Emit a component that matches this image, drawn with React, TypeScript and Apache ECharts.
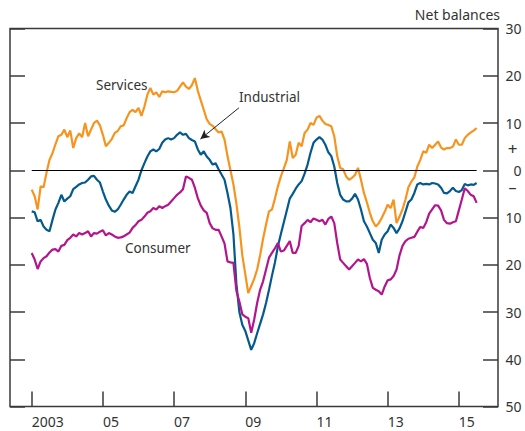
import React, { useEffect, useRef } from "react";
import * as echarts from "echarts";

// Monthly net balances, Jan 2003 – Jul 2015
const startYear = 2003;

const services = [
  -4.1, -5.5, -8.3, -3.4, -3.6, -0.5, 2.2, 3.6, 5.5, 7.2, 7.5, 8.6,
  7.0, 8.4, 4.7, 6.8, 7.8, 7.0, 10.0, 7.2, 8.6, 10.0, 10.5, 9.5,
  7.5, 5.1, 5.8, 6.6, 7.9, 8.3, 9.3, 9.5, 11.0, 12.3, 12.8, 12.3,
  13.2, 11.5, 13.5, 16.0, 17.4, 16.0, 16.5, 15.5, 16.7, 16.5, 16.7, 16.6,
  16.5, 16.8, 17.7, 18.6, 17.7, 17.2, 18.0, 19.5, 16.8, 14.8, 12.8, 10.8,
  9.8, 9.4, 8.7, 8.0, 8.2, 6.5, 3.0, 0.0, -3.0, -7.0, -12.0, -18.0,
  -22.0, -26.0, -24.5, -23.0, -21.0, -18.0, -14.5, -11.5, -8.7, -8.3, -6.0, -3.4,
  -1.3, 0.4, 2.2, 6.1, 2.6, 3.3, 5.8, 5.1, 7.9, 8.6, 10.0, 9.6,
  11.1, 11.5, 10.5, 9.8, 9.6, 9.3, 7.2, 3.0, 0.5, 0.2, -1.3, -2.0,
  -1.6, -1.0, 0.5, -2.0, -4.8, -6.8, -9.0, -10.8, -11.9, -11.2, -10.1, -8.8,
  -7.3, -8.0, -6.2, -11.2, -9.8, -8.3, -6.2, -3.6, -2.4, -1.5, 0.8, 2.2,
  4.0, 3.7, 5.4, 4.7, 5.4, 6.1, 4.8, 4.4, 4.7, 4.7, 5.0, 6.5,
  5.4, 5.4, 6.8, 7.5, 8.0, 8.4, 8.9,
];

const industrial = [
  -8.7, -8.9, -10.8, -10.5, -11.9, -12.6, -12.9, -10.5, -8.3, -6.9, -5.2, -6.6,
  -6.0, -5.5, -4.0, -3.5, -3.0, -2.7, -2.6, -2.0, -1.3, -1.2, -2.0, -2.6,
  -4.5, -6.2, -7.5, -8.5, -8.8, -8.3, -7.3, -6.2, -5.2, -4.5, -4.8, -3.4,
  -2.0, 0.0, 1.5, 2.9, 4.0, 4.4, 4.0, 4.5, 5.8, 6.5, 6.8, 6.5,
  6.8, 7.5, 8.0, 7.5, 7.7, 6.8, 6.4, 6.1, 4.4, 3.3, 4.0, 2.9,
  2.2, 1.2, 1.5, 0.2, -0.9, -2.0, -4.8, -8.0, -13.5, -24.0, -30.0, -32.7,
  -34.0, -36.0, -38.0, -36.6, -34.5, -32.5, -30.5, -28.1, -25.3, -22.3, -19.5, -16.1,
  -13.5, -11.0, -8.5, -6.0, -5.0, -3.9, -3.0, -2.3, -0.7, 1.2, 3.7, 5.8,
  6.5, 7.0, 6.5, 5.4, 3.8, 3.0, 0.8, -2.7, -5.2, -6.2, -6.6, -6.6,
  -6.0, -5.0, -6.2, -8.3, -10.8, -11.9, -13.3, -14.7, -15.4, -17.5, -14.7, -13.6,
  -12.9, -11.5, -12.2, -13.3, -12.3, -10.8, -8.8, -6.8, -6.2, -4.8, -3.0, -2.7,
  -3.0, -2.9, -3.0, -2.7, -2.8, -3.0, -3.7, -4.8, -4.9, -4.4, -3.7, -4.4,
  -4.6, -4.2, -2.9, -3.2, -3.0, -3.1, -2.7,
];

const consumer = [
  -17.5, -18.9, -20.9, -19.3, -18.6, -18.2, -17.4, -16.8, -16.7, -17.2, -16.0, -15.8,
  -14.8, -14.3, -13.6, -14.0, -13.3, -13.6, -13.3, -12.9, -14.0, -13.3, -13.4, -13.0,
  -12.7, -13.8, -13.3, -13.6, -14.0, -14.3, -14.2, -14.0, -13.6, -13.2, -12.2, -11.6,
  -10.8, -10.5, -9.8, -9.0, -8.7, -8.0, -8.3, -7.6, -8.0, -7.6, -7.3, -6.6,
  -5.9, -5.2, -4.7, -4.0, -1.3, -1.6, -2.0, -3.7, -5.9, -7.5, -8.5, -9.0,
  -11.2, -12.3, -12.6, -12.6, -14.0, -15.5, -19.3, -19.5, -19.6, -25.5, -27.8, -30.5,
  -31.0, -31.3, -34.4, -31.6, -28.1, -25.3, -23.5, -21.0, -18.5, -17.5, -16.5, -15.4,
  -17.2, -17.0, -16.0, -15.0, -17.5, -17.5, -16.0, -11.8, -11.2, -10.5, -11.0, -10.2,
  -10.5, -10.8, -10.5, -11.5, -10.3, -9.8, -11.2, -15.4, -18.9, -19.6, -20.3, -21.0,
  -20.3, -19.6, -18.9, -19.3, -18.8, -19.8, -22.8, -24.9, -25.3, -25.6, -26.3, -24.6,
  -23.3, -23.1, -22.4, -21.0, -18.0, -16.0, -15.0, -14.5, -14.3, -14.1, -13.0, -12.0,
  -12.2, -11.0, -9.2, -8.3, -7.4, -7.5, -8.5, -10.5, -11.2, -11.3, -11.0, -10.8,
  -8.5, -6.2, -3.8, -4.4, -5.2, -5.5, -6.9,
];

const tickYears = [2003, 2005, 2007, 2009, 2011, 2013, 2015];
const tickLabels = ["2003", "05", "07", "09", "11", "13", "15"];

// arrow annotation pointing at the Industrial line (data coords)
const arrowFrom = [2008.82, 13.2];
const arrowTo = [2007.74, 6.6];
const zeroFrom = 2003;
const zeroTo = 2015.5;

const pair = (arr: number[]) => arr.map((v, i) => [startYear + i / 12, v]);

const FONT = "Noto Sans";
const TEXT = "#333333";
const FRAME = "#3a3a3a";

export default function App() {
  const ref = useRef<HTMLDivElement>(null);
  useEffect(() => {
    if (!ref.current) return;
    const chart = echarts.init(ref.current, undefined, { renderer: "svg" });
    const yCommon = {
      type: "value" as const,
      min: -50,
      max: 30,
      interval: 10,
      axisLine: { show: false, onZero: false },
      splitLine: { show: false },
      axisTick: { show: true, inside: true, length: 15, lineStyle: { color: FRAME, width: 1.5 } },
    };
    chart.setOption({
      animation: false,
      grid: {
        left: 10,
        top: 28.5,
        width: 488,
        height: 378,
        show: true,
        borderColor: FRAME,
        borderWidth: 1.5,
        backgroundColor: "transparent",
      },
      xAxis: {
        type: "value",
        min: 2002.39,
        max: 2016.1,
        position: "bottom",
        axisLine: { show: false, onZero: false },
        splitLine: { show: false },
        axisTick: {
          show: true,
          inside: true,
          length: 15,
          customValues: tickYears,
          lineStyle: { color: FRAME, width: 1.5 },
        },
        axisLabel: {
          customValues: tickYears,
          formatter: (v: number) => tickLabels[tickYears.indexOf(Math.round(v))] ?? "",
          align: "left",
          margin: 8,
          color: TEXT,
          fontSize: 14,
          fontFamily: FONT,
        },
      },
      yAxis: [
        { ...yCommon, position: "left", axisLabel: { show: false } },
        {
          ...yCommon,
          position: "right",
          axisLabel: {
            show: true,
            align: "right",
            margin: 23.5,
            color: TEXT,
            fontSize: 14,
            fontFamily: FONT,
            formatter: (v: number) => String(Math.abs(v)),
          },
        },
      ],
      series: [
        {
          name: "Services",
          type: "line",
          yAxisIndex: 1,
          data: pair(services),
          showSymbol: false,
          lineStyle: { color: "#F7941E", width: 2.2 },
          itemStyle: { color: "#F7941E" },
          markLine: {
            silent: true,
            symbol: ["none", "none"],
            label: { show: false },
            lineStyle: { color: "#000000", width: 1.2, type: "solid" },
            data: [[{ coord: [zeroFrom, 0] }, { coord: [zeroTo, 0] }]],
          },
          z: 2,
        },
        {
          name: "Industrial",
          type: "line",
          yAxisIndex: 1,
          data: pair(industrial),
          showSymbol: false,
          lineStyle: { color: "#045A8D", width: 2.2 },
          itemStyle: { color: "#045A8D" },
          markLine: {
            silent: true,
            symbol: ["none", "arrow"],
            symbolSize: [7, 9],
            label: { show: false },
            lineStyle: { color: "#222222", width: 1, type: "solid" },
            data: [[{ coord: arrowFrom }, { coord: arrowTo }]],
          },
          z: 3,
        },
        {
          name: "Consumer",
          type: "line",
          yAxisIndex: 1,
          data: pair(consumer),
          showSymbol: false,
          lineStyle: { color: "#B3158D", width: 2.2 },
          itemStyle: { color: "#B3158D" },
          z: 4,
        },
      ],
      graphic: [
        { type: "text", right: 25, top: 7, style: { text: "Net balances", fill: TEXT, font: `14px ${FONT}` } },
        { type: "text", x: 512.5, y: 148, style: { text: "+", fill: TEXT, font: `17px ${FONT}`, textAlign: "center", textVerticalAlign: "middle" } },
        { type: "text", x: 512.5, y: 187, style: { text: "–", fill: TEXT, font: `16px ${FONT}`, textAlign: "center", textVerticalAlign: "middle" } },
        { type: "text", x: 96, y: 85, style: { text: "Services", fill: TEXT, font: `13.5px ${FONT}`, textVerticalAlign: "middle" } },
        { type: "text", x: 239, y: 97, style: { text: "Industrial", fill: TEXT, font: `13.5px ${FONT}`, textVerticalAlign: "middle" } },
        { type: "text", x: 125, y: 248, style: { text: "Consumer", fill: TEXT, font: `13.5px ${FONT}`, textVerticalAlign: "middle" } },
      ],
    });
    return () => chart.dispose();
  }, []);
  return (
    <div
      ref={ref}
      style={{ position: "fixed", left: 0, top: 0, width: 525, height: 431, background: "#ffffff" }}
    />
  );
}
